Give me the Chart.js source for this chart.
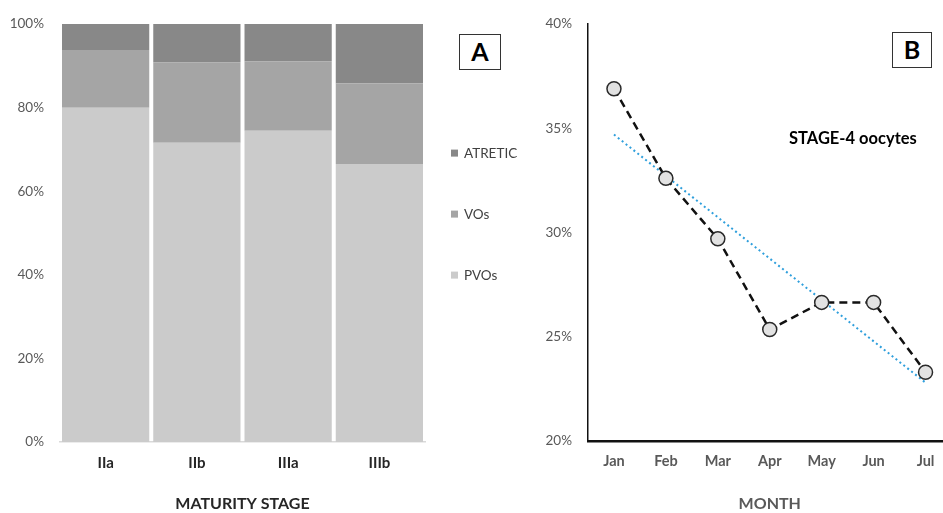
<!DOCTYPE html>
<html><head><meta charset="utf-8">
<script src="https://cdn.jsdelivr.net/npm/chart.js@4.4.1/dist/chart.umd.min.js"></script>
<style>
html,body{margin:0;padding:0;background:#fff;overflow:hidden;width:943px;height:513px;}
#wrap{position:relative;width:943px;height:513px;overflow:hidden;font-family:Lato,"Liberation Sans",sans-serif;}
#ca{position:absolute;left:0;top:0;}
#cb{position:absolute;left:500px;top:0;}
.box{position:absolute;border:1.5px solid #333;background:#fff;font-weight:bold;color:#000;text-align:center;box-sizing:border-box;font-family:Lato,"Liberation Sans",sans-serif;}
.note{position:absolute;font-weight:bold;color:#000;font-size:16.5px;white-space:nowrap;font-family:Lato,"Liberation Sans",sans-serif;}
</style></head>
<body>
<div id="wrap">
<canvas id="ca" width="545" height="513"></canvas>
<canvas id="cb" width="460" height="513"></canvas>
<div class="box" style="left:459px;top:34px;width:42px;height:36px;font-size:25px;line-height:33px;">A</div>
<div class="box" style="left:892px;top:32px;width:40px;height:36px;font-size:25px;line-height:33px;">B</div>
<div class="note" style="left:789px;top:128px;">STAGE-4 oocytes</div>
</div>
<script>
// ---- Panel A data ----
const stages = ['IIa', 'IIb', 'IIIa', 'IIIb'];
const pvos = [80.0, 71.6, 74.5, 66.5];
const vos = [13.8, 19.3, 16.6, 19.3];
const atretic = [6.2, 9.1, 8.9, 14.2];
const seriesNamesA = ['PVOs', 'VOs', 'ATRETIC'];

// ---- Panel B data ----
const months = ['Jan', 'Feb', 'Mar', 'Apr', 'May', 'Jun', 'Jul'];
const stage4 = [36.9, 32.6, 29.7, 25.35, 26.65, 26.65, 23.3];
const trend = [34.7, null, null, null, null, null, 22.8];

const FONT = 'Lato, "Liberation Sans", sans-serif';
Chart.defaults.font.family = FONT;
Chart.defaults.animation = false;

const sideLegend = {
  id: 'sideLegend',
  afterDraw(chart) {
    const ctx = chart.ctx;
    const ca = chart.chartArea;
    const ds = chart.data.datasets;
    const order = [2, 1, 0];
    const offs = [129, 190, 251];
    ctx.save();
    ctx.font = '13.5px ' + FONT;
    ctx.textBaseline = 'middle';
    order.forEach((i, k) => {
      const y = ca.top + offs[k];
      const x = ca.right + 26;
      ctx.fillStyle = ds[i].backgroundColor;
      ctx.fillRect(x, y - 3.5, 7, 7);
      ctx.fillStyle = '#404040';
      ctx.fillText(ds[i].label, x + 13, y + 0.5);
    });
    ctx.restore();
  }
};

new Chart(document.getElementById('ca'), {
  type: 'bar',
  data: {
    labels: stages,
    datasets: [
      { label: seriesNamesA[0], data: pvos, backgroundColor: '#cbcbcb' },
      { label: seriesNamesA[1], data: vos, backgroundColor: '#a5a5a5' },
      { label: seriesNamesA[2], data: atretic, backgroundColor: '#888888' }
    ]
  },
  options: {
    responsive: false,
    layout: { padding: { top: 23, right: 120, left: 0, bottom: 0 } },
    datasets: { bar: { barPercentage: 1, categoryPercentage: 0.956, borderWidth: 0 } },
    plugins: { legend: { display: false }, tooltip: { enabled: false } },
    scales: {
      x: {
        stacked: true,
        grid: { display: false, drawTicks: false },
        border: { display: true, color: '#d9d9d9', width: 1.5 },
        ticks: { color: '#262626', font: { size: 15, weight: 'bold' }, padding: 12 },
        title: { display: true, text: 'MATURITY STAGE', color: '#262626', font: { size: 16, weight: 'bold' }, padding: 0 },
        afterFit(s) { s.height = 71; }
      },
      y: {
        stacked: true,
        min: 0, max: 100,
        grid: { display: false, drawTicks: false },
        border: { display: false },
        ticks: { stepSize: 20, color: '#595959', font: { size: 13.5 }, padding: 16, callback: v => v + '%' },
        afterFit(s) { s.width = 60; }
      }
    }
  },
  plugins: [sideLegend]
});

new Chart(document.getElementById('cb'), {
  type: 'line',
  data: {
    labels: months,
    datasets: [
      {
        label: 'STAGE-4 oocytes', data: stage4, order: 1,
        borderColor: '#111', borderWidth: 2.5, borderDash: [8, 5],
        pointRadius: 7, pointBackgroundColor: '#e2e2e2', pointBorderColor: '#2a2a2a', pointBorderWidth: 1.5,
        tension: 0, fill: false
      },
      {
        label: 'Trend', data: trend, order: 2, spanGaps: true,
        borderColor: '#2f9fdc', borderWidth: 2, borderDash: [2, 3],
        pointRadius: 0, tension: 0, fill: false
      }
    ]
  },
  options: {
    responsive: false,
    layout: { padding: { top: 22, right: 5, left: 0, bottom: 0 } },
    plugins: { legend: { display: false }, tooltip: { enabled: false } },
    scales: {
      x: {
        offset: true,
        grid: { display: false, drawTicks: false },
        border: { display: true, color: '#111', width: 2.5 },
        ticks: { color: '#595959', font: { size: 14.5, weight: 'bold' }, padding: 12 },
        title: { display: true, text: 'MONTH', color: '#595959', font: { size: 16, weight: 'bold' }, padding: 0 },
        afterFit(s) { s.height = 72; }
      },
      y: {
        min: 20, max: 40,
        grid: { display: false, drawTicks: false },
        border: { display: true, color: '#111', width: 1.5 },
        ticks: { stepSize: 5, color: '#595959', font: { size: 13.5 }, padding: 16, callback: v => v + '%' },
        afterFit(s) { s.width = 88; }
      }
    }
  }
});
</script>
</body></html>
